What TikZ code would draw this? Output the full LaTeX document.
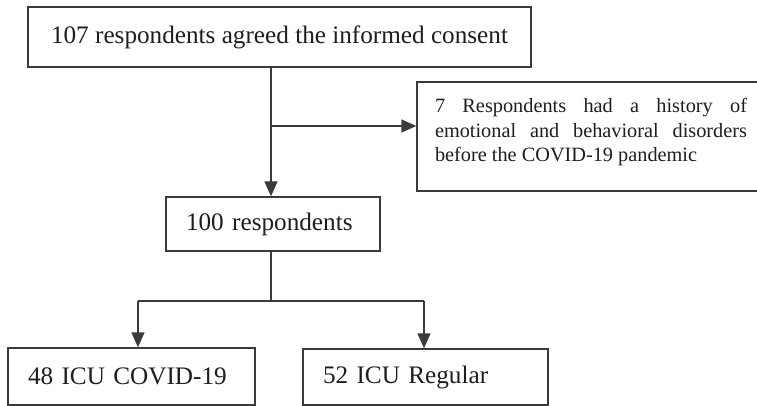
\documentclass[tikz,border=0pt]{standalone}
\usepackage{fontspec}
\setmainfont{Liberation Serif}
\usepackage{xcolor}
\usepackage{tikz}
\usetikzlibrary{arrows.meta, positioning}
\definecolor{fcline}{HTML}{3A3A3A}
\definecolor{fctext}{HTML}{1E1E1E}
\newcommand{\nohyph}{\hyphenpenalty=10000\relax\exhyphenpenalty=10000\relax\tolerance=9999\relax}

\begin{document}
\begin{tikzpicture}[x=1pt, y=-1pt,
  stagebox/.style={draw=fcline, line width=1.3pt, fill=white, inner xsep=20pt, inner ysep=0pt, align=left, text=fctext, font=\fontsize{25.2}{29}\selectfont},
  notebox/.style={draw=fcline, line width=1.3pt, fill=white, inner xsep=18pt, inner ysep=17pt, text width=312pt, align=justify, text=fctext, font=\fontsize{20.3}{24.5}\selectfont\nohyph},
  arr/.style={-{Triangle[length=15pt, width=13pt]}, fcline, line width=1.3pt}
]
  \useasboundingbox (0,0) rectangle (757,406);

  \node[stagebox, inner xsep=0pt, minimum width=503pt, minimum height=60pt] (consent) at (279.5,37) {107 respondents agreed the informed consent};

  \node[notebox, text height=14pt, text depth=61pt] (excl) at (591,136.5) {7 Respondents had a history of emotional and behavioral disorders before the COVID-19 pandemic};

  \node[stagebox, text width=174pt, minimum height=54pt] (n100) at (273,224) {100 respondents};

  \node[stagebox, text width=207pt, minimum height=57pt] (covid) at (131.5,376.5) {48 ICU COVID-19};
  \node[stagebox, text width=205pt, minimum height=56pt] (regular) at (425.5,377) {52 ICU Regular};

  \coordinate (trunk) at (271,126);
  \coordinate (split) at (271,301);
  \coordinate (lbranch) at (138,301);
  \coordinate (rbranch) at (424,301);

  \draw[arr] (trunk |- consent.south) -- (trunk |- n100.north);
  \draw[arr] (trunk) -- (trunk -| excl.west);

  \draw[fcline, line width=1.3pt] (split |- n100.south) -- (split);
  \draw[fcline, line width=1.3pt] (lbranch) -- (rbranch);
  \draw[arr] (lbranch) -- (lbranch |- covid.north);
  \draw[arr] (rbranch) -- (rbranch |- regular.north);
\end{tikzpicture}
\end{document}
